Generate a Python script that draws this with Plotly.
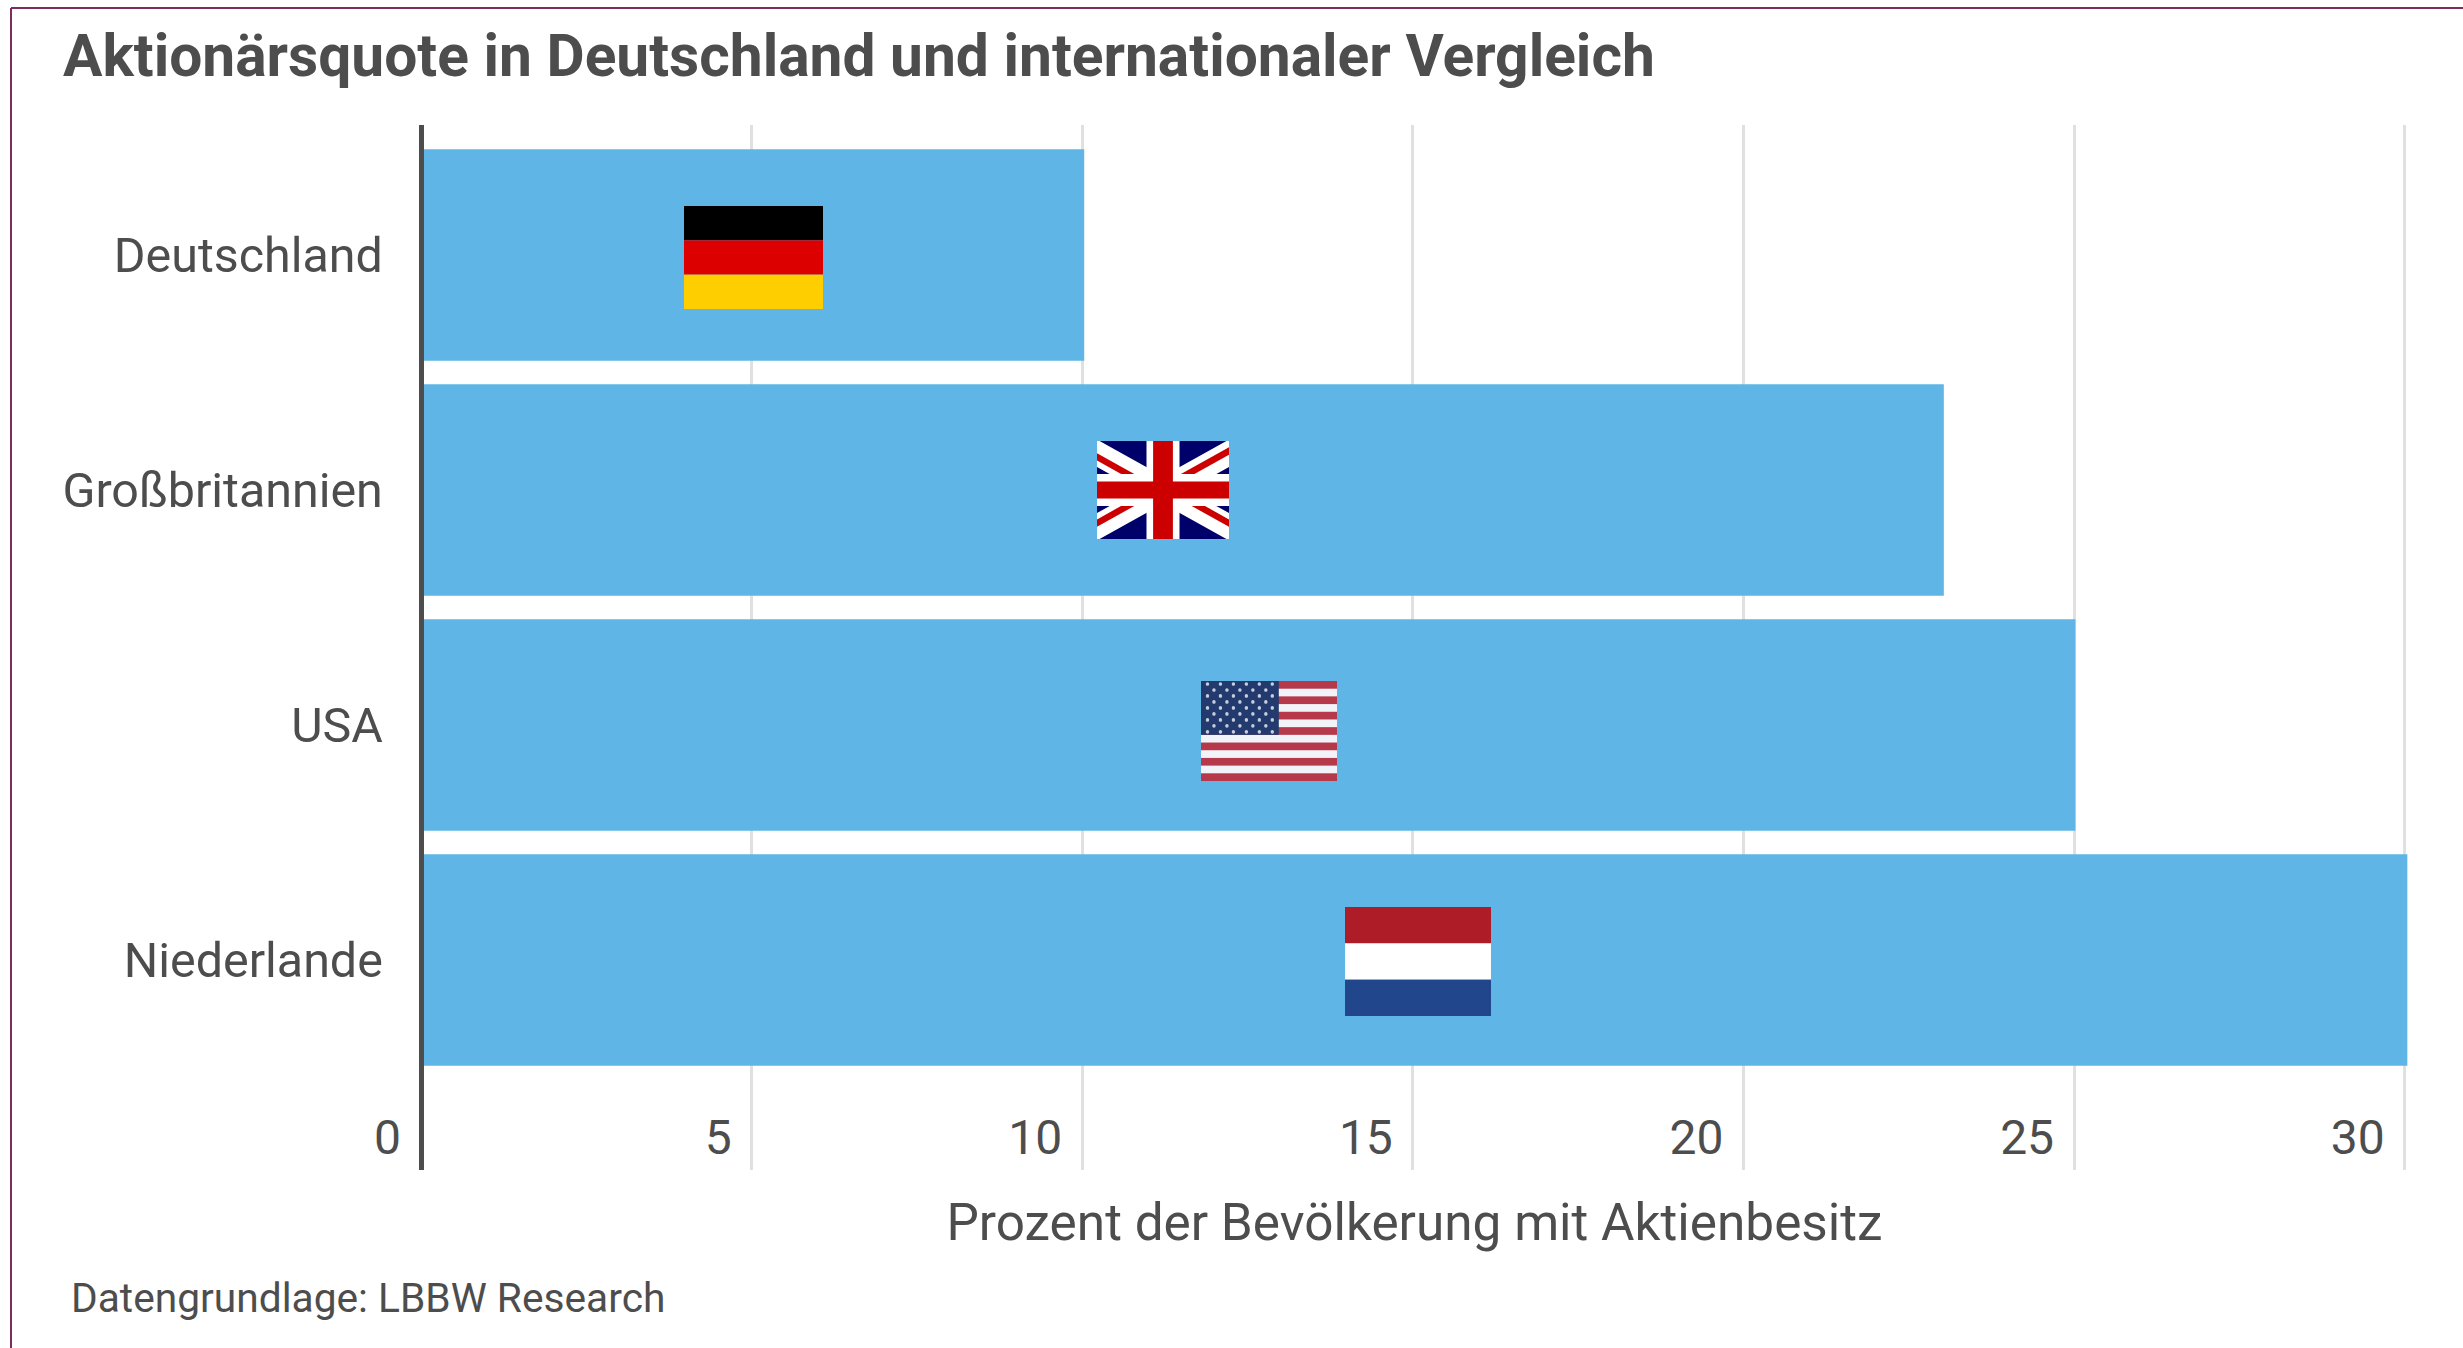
import base64
import plotly.graph_objects as go

categories = ["Deutschland", "Großbritannien", "USA", "Niederlande"]
values = [10.03, 23.03, 25.02, 30.04]
x_ticks = [0, 5, 10, 15, 20, 25, 30]
x_tick_labels = ["0", "5", "10", "15", "20", "25", "30"]
title_text = "Aktionärsquote in Deutschland und internationaler Vergleich"
x_title = "Prozent der Bevölkerung mit Aktienbesitz"
source_text = "Datengrundlage: LBBW Research"

W, H = 2463, 1348
INK = "#4d4d4d"
BAR = "#5fb5e5"
FRAME = "#7b2d5e"
FONT = "Roboto"


def uri(svg):
    return "data:image/svg+xml;base64," + base64.b64encode(svg.encode()).decode()


def svg_wrap(w, h, body, vb=None):
    vb = vb or f"0 0 {w} {h}"
    return (f'<svg xmlns="http://www.w3.org/2000/svg" width="{w}" height="{h}" '
            f'viewBox="{vb}" preserveAspectRatio="none">{body}</svg>')


def flag_de():
    return svg_wrap(3, 3, '<rect width="3" height="1" y="0" fill="#000"/>'
                          '<rect width="3" height="1" y="1" fill="#dd0000"/>'
                          '<rect width="3" height="1" y="2" fill="#ffce00"/>')


def flag_nl():
    return svg_wrap(3, 3, '<rect width="3" height="1" y="0" fill="#ae1c28"/>'
                          '<rect width="3" height="1" y="1" fill="#fff"/>'
                          '<rect width="3" height="1" y="2" fill="#21468b"/>')


def flag_uk():
    b = '<rect width="80" height="40" fill="#00006b"/>'
    b += '<path d="M0 0L80 40M80 0L0 40" stroke="#fff" stroke-width="10"/>'
    b += ('<defs><clipPath id="a"><rect width="40" height="20"/></clipPath>'
          '<clipPath id="b"><rect x="40" width="40" height="20"/></clipPath>'
          '<clipPath id="c"><rect y="20" width="40" height="20"/></clipPath>'
          '<clipPath id="d"><rect x="40" y="20" width="40" height="20"/></clipPath></defs>')
    red = 'stroke="#cc0000" stroke-width="2.7"'
    b += f'<path clip-path="url(#a)" d="M-0.6 1.2L39.4 21.2" {red}/>'
    b += f'<path clip-path="url(#b)" d="M80.6 -1.2L40.6 18.8" {red}/>'
    b += f'<path clip-path="url(#c)" d="M-0.6 38.8L39.4 18.8" {red}/>'
    b += f'<path clip-path="url(#d)" d="M80.6 38.8L40.6 18.8" {red}/>'
    b += '<path d="M40 0V40" stroke="#fff" stroke-width="15"/>'
    b += '<path d="M0 20H80" stroke="#fff" stroke-width="13"/>'
    b += '<path d="M40 0V40" stroke="#cc0000" stroke-width="9"/>'
    b += '<path d="M0 20H80" stroke="#cc0000" stroke-width="7"/>'
    return svg_wrap(60, 40, b, vb="10 0 60 40")


def flag_us():
    w, h = 190, 130
    sh = h / 13
    b = f'<rect width="{w}" height="{h}" fill="#f2f3f8"/>'
    for i in range(0, 13, 2):
        b += f'<rect y="{i * sh}" width="{w}" height="{sh}" fill="#b5394a"/>'
    cw, ch = 76 * 1.43, sh * 7
    b += f'<rect width="{cw}" height="{ch}" fill="#223a6e"/>'
    for r in range(9):
        n = 6 if r % 2 == 0 else 5
        off = 0 if r % 2 == 0 else cw / 12
        for c in range(n):
            cx = cw / 12 + off + c * cw / 6
            cy = ch / 18 + r * ch / 9
            b += f'<circle cx="{cx}" cy="{cy}" r="2.4" fill="#c9cede"/>'
    return svg_wrap(w, h, b)


flags = [
    (flag_de(), 684, 823, 206, 309),
    (flag_uk(), 1097, 1229, 441, 539),
    (flag_us(), 1201, 1337, 681, 781),
    (flag_nl(), 1345, 1491, 907, 1016),
]

fig = go.Figure(go.Bar(
    y=categories, x=values, orientation="h",
    marker=dict(color=BAR, line=dict(width=0)),
    width=0.9,
))

images = [dict(source=uri(s), xref="paper", yref="paper",
               x=x0 / W, y=1 - y0 / H, sizex=(x1 - x0) / W, sizey=(y1 - y0) / H,
               xanchor="left", yanchor="top", sizing="stretch", layer="above")
          for s, x0, x1, y0, y1 in flags]

shapes = [
    dict(type="line", xref="paper", yref="paper", x0=11 / W, x1=1, y0=1 - 8 / H, y1=1 - 8 / H,
         line=dict(color=FRAME, width=2)),
    dict(type="line", xref="paper", yref="paper", x0=11 / W, x1=11 / W, y0=0, y1=1 - 8 / H,
         line=dict(color=FRAME, width=2)),
]

fig.update_layout(
    width=W, height=H,
    margin=dict(l=0, r=0, t=0, b=0),
    paper_bgcolor="#ffffff", plot_bgcolor="#ffffff",
    font=dict(family=FONT, color=INK, size=47),
    showlegend=False,
    images=images, shapes=shapes,
    title=dict(text=f"<b>{title_text}</b>", x=63 / W, xanchor="left", xref="paper",
               y=1 - 55 / H, yanchor="middle", yref="paper",
               font=dict(family=FONT, size=58.7, color=INK)),
    xaxis=dict(
        domain=[421 / W, 2408 / W],
        range=[0, 30.05], tickmode="array", tickvals=x_ticks, ticktext=x_tick_labels,
        ticklabelposition="inside left", ticklabeloverflow="allow",
        ticklabelshift=-20, automargin=False,
        tickfont=dict(size=48, color=INK),
        showgrid=True, gridcolor="#e0e0e0", gridwidth=3,
        zeroline=False, showline=False, ticks="",
        title=dict(text=x_title, standoff=38, font=dict(size=51.3, color=INK)),
    ),
    yaxis=dict(
        domain=[1 - 1170 / H, 1 - 125 / H],
        type="category", categoryorder="array", categoryarray=categories,
        range=[3.894, -0.553],
        anchor="free", position=420.5 / W, automargin=False,
        tickfont=dict(size=48.4, color=INK),
        ticklabelstandoff=26,
        showgrid=False, zeroline=False, ticks="",
        showline=True, linecolor=INK, linewidth=5,
    ),
    annotations=[dict(text=source_text, xref="paper", yref="paper",
                      x=69 / W, y=1 - 1298 / H, xanchor="left", yanchor="middle",
                      showarrow=False, font=dict(size=40.7, color=INK))],
)

fig.write_html("out.html", post_script="document.body.style.margin='0';",
               config=dict(displayModeBar=False))
